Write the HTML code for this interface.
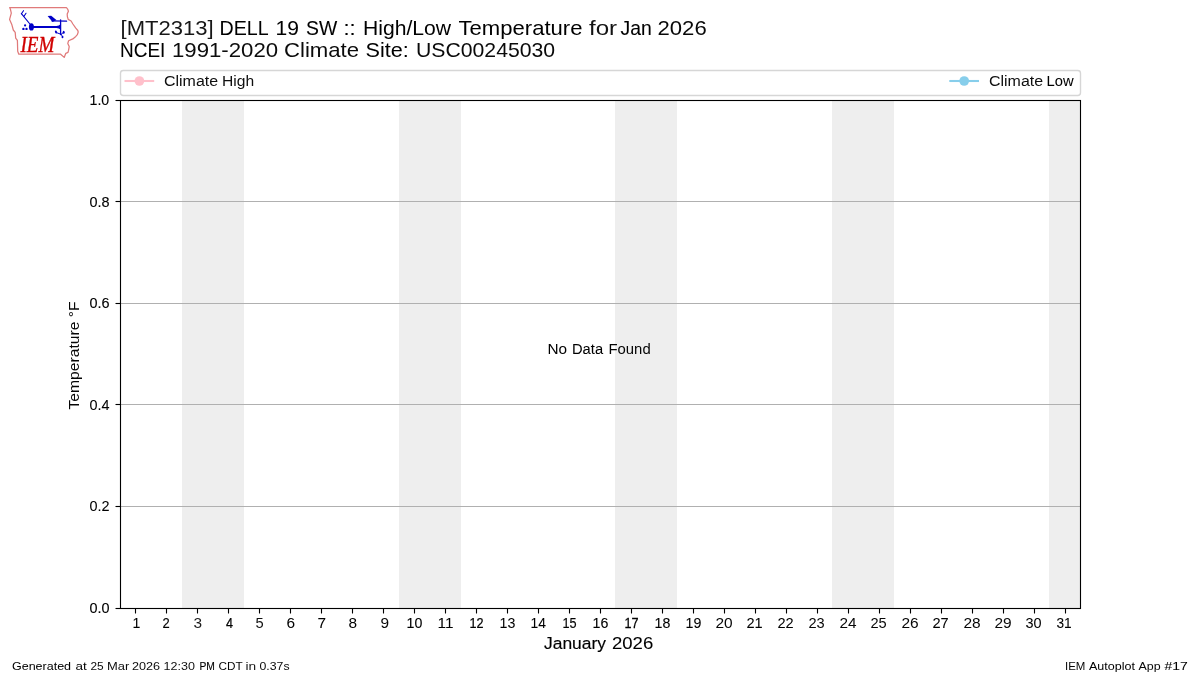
<!DOCTYPE html>
<html><head><meta charset="utf-8"><title>IEM Autoplot</title>
<style>
html,body{margin:0;padding:0;background:#fff;width:1200px;height:675px;overflow:hidden}
svg{display:block}
text{font-family:"Liberation Sans",sans-serif;fill:#000}
svg{will-change:transform}
</style></head><body>
<svg width="1200" height="675" viewBox="0 0 1200 675">
<rect width="1200" height="675" fill="#fff"/>

<g id="logo">
<path d="M9.7 7.5 L66.4 7.5 L67.8 9.4 L68.4 11.2 L67.2 14.1 L67.4 16.8 L68.2 19.4 L71.1 21 L72.9 24 L75.6 27.9 L77.8 30.5 L78.2 32 L77.4 34.6 L75.8 36.4 L72.8 38.9 L68.6 40.8 L67.8 43.4 L69.2 46.6 L68.6 50.2 L68 52.4 L65.8 53.3 L64.2 57.4 L60.6 54.2 L18.8 54.2 L17.7 51.3 L17.4 40.4 L15.7 38.2 L15.2 32.4 L13.3 30 L11.9 24.8 L9.6 19.4 L11.3 13.2 L10.4 9.2 Z" fill="none" stroke="#e07a7a" stroke-width="1.25" stroke-linejoin="round"/>
<g fill="#0000c8" stroke="#0000c8" stroke-linecap="round">
<ellipse cx="31.4" cy="26.9" rx="2.5" ry="3.7" stroke="none"/>
<path d="M33 26 L56.5 26 Q59.3 25.9 60.2 24.6 L60.2 29.3 Q59.3 28 56.5 27.9 L33 27.9 Z" stroke="none"/>
<line x1="29.9" y1="24" x2="21.4" y2="13.7" stroke-width="1.15" fill="none"/>
<line x1="21.4" y1="13.7" x2="23.5" y2="10.7" stroke-width="1.1"/>
<line x1="24" y1="16.2" x2="26" y2="13.3" stroke-width="1.1"/>
<circle cx="25.1" cy="25.4" r="1.1" stroke="none"/>
<circle cx="23.4" cy="28.9" r="1.2" stroke="none"/>
<circle cx="26.5" cy="28.9" r="1.2" stroke="none"/>
<line x1="60.6" y1="19.8" x2="60.6" y2="34.6" stroke-width="1.3"/>
<line x1="52" y1="20.9" x2="66.6" y2="21.2" stroke-width="1.2"/>
<path d="M47.6 15.9 L51.2 15.7 L56.4 19.9 L52.6 21.9 Z" stroke="none"/>
<ellipse cx="56" cy="32" rx="1.05" ry="1.6" stroke="none" transform="rotate(-20 56 32)"/>
<ellipse cx="63.7" cy="32.3" rx="1" ry="1.5" stroke="none"/>
<ellipse cx="62.5" cy="36.9" rx="0.95" ry="1.25" stroke="none"/>
<line x1="56.5" y1="32.6" x2="61" y2="34.3" stroke-width="1"/>
<line x1="61" y1="34.3" x2="63.5" y2="32.6" stroke-width="0.9"/>
<line x1="61" y1="34.3" x2="62.4" y2="36.5" stroke-width="0.9"/>
</g>
</g>
<g fill="#eeeeee" shape-rendering="crispEdges">
<rect x="181.94" y="100" width="61.94" height="508"/>
<rect x="398.71" y="100" width="61.94" height="508"/>
<rect x="615.48" y="100" width="61.94" height="508"/>
<rect x="832.26" y="100" width="61.94" height="508"/>
<rect x="1049.03" y="100" width="30.97" height="508"/>
</g>
<g stroke="#b0b0b0" stroke-width="1.11">
<line x1="120" y1="201.5" x2="1080" y2="201.5"/>
<line x1="120" y1="303.5" x2="1080" y2="303.5"/>
<line x1="120" y1="404.5" x2="1080" y2="404.5"/>
<line x1="120" y1="506.5" x2="1080" y2="506.5"/>
</g>
<g stroke="#000" stroke-width="1.11" fill="none" stroke-linecap="butt">
<rect x="120.5" y="100.5" width="960" height="508" stroke-linejoin="miter"/>
<line x1="115.5" y1="100.5" x2="120.5" y2="100.5"/>
<line x1="115.5" y1="201.5" x2="120.5" y2="201.5"/>
<line x1="115.5" y1="303.5" x2="120.5" y2="303.5"/>
<line x1="115.5" y1="404.5" x2="120.5" y2="404.5"/>
<line x1="115.5" y1="506.5" x2="120.5" y2="506.5"/>
<line x1="115.5" y1="608.5" x2="120.5" y2="608.5"/>
<line x1="135.5" y1="608.5" x2="135.5" y2="613.5"/>
<line x1="166.5" y1="608.5" x2="166.5" y2="613.5"/>
<line x1="197.5" y1="608.5" x2="197.5" y2="613.5"/>
<line x1="228.5" y1="608.5" x2="228.5" y2="613.5"/>
<line x1="259.5" y1="608.5" x2="259.5" y2="613.5"/>
<line x1="290.5" y1="608.5" x2="290.5" y2="613.5"/>
<line x1="321.5" y1="608.5" x2="321.5" y2="613.5"/>
<line x1="352.5" y1="608.5" x2="352.5" y2="613.5"/>
<line x1="383.5" y1="608.5" x2="383.5" y2="613.5"/>
<line x1="414.5" y1="608.5" x2="414.5" y2="613.5"/>
<line x1="445.5" y1="608.5" x2="445.5" y2="613.5"/>
<line x1="476.5" y1="608.5" x2="476.5" y2="613.5"/>
<line x1="507.5" y1="608.5" x2="507.5" y2="613.5"/>
<line x1="538.5" y1="608.5" x2="538.5" y2="613.5"/>
<line x1="569.5" y1="608.5" x2="569.5" y2="613.5"/>
<line x1="600.5" y1="608.5" x2="600.5" y2="613.5"/>
<line x1="631.5" y1="608.5" x2="631.5" y2="613.5"/>
<line x1="662.5" y1="608.5" x2="662.5" y2="613.5"/>
<line x1="693.5" y1="608.5" x2="693.5" y2="613.5"/>
<line x1="724.5" y1="608.5" x2="724.5" y2="613.5"/>
<line x1="755.5" y1="608.5" x2="755.5" y2="613.5"/>
<line x1="786.5" y1="608.5" x2="786.5" y2="613.5"/>
<line x1="817.5" y1="608.5" x2="817.5" y2="613.5"/>
<line x1="848.5" y1="608.5" x2="848.5" y2="613.5"/>
<line x1="879.5" y1="608.5" x2="879.5" y2="613.5"/>
<line x1="910.5" y1="608.5" x2="910.5" y2="613.5"/>
<line x1="941.5" y1="608.5" x2="941.5" y2="613.5"/>
<line x1="972.5" y1="608.5" x2="972.5" y2="613.5"/>
<line x1="1003.5" y1="608.5" x2="1003.5" y2="613.5"/>
<line x1="1034.5" y1="608.5" x2="1034.5" y2="613.5"/>
<line x1="1065.5" y1="608.5" x2="1065.5" y2="613.5"/>
</g>
<rect x="120.5" y="70.5" width="960" height="25" rx="2.8" ry="2.8" fill="#fff" fill-opacity="0.8" stroke="#d6d6d6" stroke-width="1.39"/>
<line x1="124.5" y1="81" x2="154.2" y2="81" stroke="#ffc0cb" stroke-width="2.08"/>
<circle cx="139.4" cy="81" r="4.85" fill="#ffc0cb"/>
<line x1="949.3" y1="81" x2="979" y2="81" stroke="#87ceeb" stroke-width="2.08"/>
<circle cx="964.2" cy="81" r="4.85" fill="#87ceeb"/>
<g class="txt">
<text id="t1_0" x="120.50" y="35.00" font-size="20.40" text-anchor="start" textLength="93.15" lengthAdjust="spacingAndGlyphs" style="fill:#171717">[MT2313]</text>
<text id="t1_1" x="219.50" y="35.00" font-size="20.40" text-anchor="start" textLength="49.21" lengthAdjust="spacingAndGlyphs">DELL</text>
<text id="t1_2" x="275.50" y="35.00" font-size="20.40" text-anchor="start" textLength="23.45" lengthAdjust="spacingAndGlyphs" style="stroke:#000000;stroke-width:0.026px">19</text>
<text id="t1_3" x="306.00" y="35.00" font-size="20.40" text-anchor="start" textLength="31.15" lengthAdjust="spacingAndGlyphs" style="stroke:#000000;stroke-width:0.099px">SW</text>
<text id="t1_4" x="343.50" y="35.00" font-size="20.40" text-anchor="start" textLength="12.19" lengthAdjust="spacingAndGlyphs" style="stroke:#000000;stroke-width:0.097px">::</text>
<text id="t1_5" x="363.00" y="35.00" font-size="20.40" text-anchor="start" textLength="88.09" lengthAdjust="spacingAndGlyphs" style="fill:#010101">High/Low</text>
<text id="t1_6" x="458.50" y="35.00" font-size="20.40" text-anchor="start" textLength="124.01" lengthAdjust="spacingAndGlyphs">Temperature</text>
<text id="t1_7" x="589.00" y="35.00" font-size="20.40" text-anchor="start" textLength="28.15" lengthAdjust="spacingAndGlyphs" style="fill:#131313">for</text>
<text id="t1_8" x="620.50" y="35.00" font-size="20.40" text-anchor="start" textLength="31.23" lengthAdjust="spacingAndGlyphs" style="stroke:#000000;stroke-width:0.093px">Jan</text>
<text id="t1_9" x="657.50" y="35.00" font-size="20.40" text-anchor="start" textLength="49.20" lengthAdjust="spacingAndGlyphs" style="fill:#080808">2026</text>
<text id="t2_0" x="120.00" y="57.00" font-size="20.40" text-anchor="start" textLength="45.32" lengthAdjust="spacingAndGlyphs" style="stroke:#000000;stroke-width:0.065px">NCEI</text>
<text id="t2_1" x="172.00" y="57.00" font-size="20.40" text-anchor="start" textLength="106.14" lengthAdjust="spacingAndGlyphs" style="fill:#0c0c0c">1991-2020</text>
<text id="t2_2" x="284.00" y="57.00" font-size="20.40" text-anchor="start" textLength="75.06" lengthAdjust="spacingAndGlyphs" style="fill:#0b0b0b">Climate</text>
<text id="t2_3" x="365.50" y="57.00" font-size="20.40" text-anchor="start" textLength="43.24" lengthAdjust="spacingAndGlyphs" style="stroke:#000000;stroke-width:0.005px">Site:</text>
<text id="t2_4" x="416.00" y="57.00" font-size="20.40" text-anchor="start" textLength="139.11" lengthAdjust="spacingAndGlyphs" style="fill:#0a0a0a">USC00245030</text>
<text id="legH_0" x="164.00" y="86.00" font-size="14.58" text-anchor="start" textLength="54.08" lengthAdjust="spacingAndGlyphs" style="fill:#0f0f0f">Climate</text>
<text id="legH_1" x="222.00" y="86.00" font-size="14.58" text-anchor="start" textLength="32.14" lengthAdjust="spacingAndGlyphs" style="fill:#0f0f0f">High</text>
<text id="legL_0" x="989.00" y="86.00" font-size="14.58" text-anchor="start" textLength="54.08" lengthAdjust="spacingAndGlyphs" style="fill:#0f0f0f">Climate</text>
<text id="legL_1" x="1046.50" y="86.00" font-size="14.58" text-anchor="start" textLength="27.04" lengthAdjust="spacingAndGlyphs" style="stroke:#000000;stroke-width:0.033px">Low</text>
<text id="foot_0" x="12.00" y="670.00" font-size="11.67" text-anchor="start" textLength="59.07" lengthAdjust="spacingAndGlyphs" style="stroke:#000000;stroke-width:0.011px">Generated</text>
<text id="foot_1" x="75.50" y="670.00" font-size="11.67" text-anchor="start" textLength="11.25" lengthAdjust="spacingAndGlyphs" style="fill:#040404">at</text>
<text id="foot_2" x="90.50" y="670.00" font-size="11.67" text-anchor="start" textLength="13.20" lengthAdjust="spacingAndGlyphs" style="fill:#0c0c0c">25</text>
<text id="foot_3" x="107.00" y="670.00" font-size="11.67" text-anchor="start" textLength="22.28" lengthAdjust="spacingAndGlyphs" style="fill:#0e0e0e">Mar</text>
<text id="foot_4" x="132.00" y="670.00" font-size="11.67" text-anchor="start" textLength="28.08" lengthAdjust="spacingAndGlyphs" style="fill:#0c0c0c">2026</text>
<text id="foot_5" x="163.50" y="670.00" font-size="11.67" text-anchor="start" textLength="31.37" lengthAdjust="spacingAndGlyphs" style="fill:#111111">12:30</text>
<text id="foot_6" x="199.50" y="670.00" font-size="11.67" text-anchor="start" textLength="15.44" lengthAdjust="spacingAndGlyphs" style="stroke:#000000;stroke-width:0.141px">PM</text>
<text id="foot_7" x="218.50" y="670.00" font-size="11.67" text-anchor="start" textLength="24.15" lengthAdjust="spacingAndGlyphs" style="fill:#040404">CDT</text>
<text id="foot_8" x="245.50" y="670.00" font-size="11.67" text-anchor="start" textLength="10.67" lengthAdjust="spacingAndGlyphs" style="fill:#171717">in</text>
<text id="foot_9" x="259.50" y="670.00" font-size="11.67" text-anchor="start" textLength="30.07" lengthAdjust="spacingAndGlyphs" style="fill:#090909">0.37s</text>
<text id="footR_0" x="1065.00" y="670.00" font-size="11.67" text-anchor="start" textLength="20.40" lengthAdjust="spacingAndGlyphs" style="fill:#060606">IEM</text>
<text id="footR_1" x="1089.00" y="670.00" font-size="11.67" text-anchor="start" textLength="46.00" lengthAdjust="spacingAndGlyphs">Autoplot</text>
<text id="footR_2" x="1138.50" y="670.00" font-size="11.67" text-anchor="start" textLength="22.11" lengthAdjust="spacingAndGlyphs" style="fill:#080808">App</text>
<text id="footR_3" x="1164.50" y="670.00" font-size="11.67" text-anchor="start" textLength="23.26" lengthAdjust="spacingAndGlyphs" style="stroke:#000000;stroke-width:0.060px">#17</text>
<text id="xlab_0" x="544.00" y="649.20" font-size="17.40" text-anchor="start" textLength="62.00" lengthAdjust="spacingAndGlyphs" style="stroke:#000000;stroke-width:0.154px">January</text>
<text id="xlab_1" x="612.00" y="649.20" font-size="17.40" text-anchor="start" textLength="41.21" lengthAdjust="spacingAndGlyphs" style="stroke:#000000;stroke-width:0.078px">2026</text>
<text id="nodata_0" x="547.50" y="354.40" font-size="14.58" text-anchor="start" textLength="19.58" lengthAdjust="spacingAndGlyphs" style="stroke:#000000;stroke-width:0.005px">No</text>
<text id="nodata_1" x="572.00" y="354.40" font-size="14.58" text-anchor="start" textLength="31.06" lengthAdjust="spacingAndGlyphs" style="stroke:#000000;stroke-width:0.043px">Data</text>
<text id="nodata_2" x="608.50" y="354.40" font-size="14.58" text-anchor="start" textLength="42.16" lengthAdjust="spacingAndGlyphs" style="fill:#040404">Found</text>
<text id="y00" x="89.50" y="613.00" font-size="14.58" text-anchor="start" textLength="20.06" lengthAdjust="spacingAndGlyphs" style="stroke:#000000;stroke-width:0.132px">0.0</text>
<text id="y02" x="89.50" y="511.00" font-size="14.58" text-anchor="start" textLength="20.06" lengthAdjust="spacingAndGlyphs" style="stroke:#000000;stroke-width:0.060px">0.2</text>
<text id="y04" x="89.50" y="410.00" font-size="14.58" text-anchor="start" textLength="20.06" lengthAdjust="spacingAndGlyphs" style="stroke:#000000;stroke-width:0.063px">0.4</text>
<text id="y06" x="89.50" y="308.00" font-size="14.58" text-anchor="start" textLength="20.06" lengthAdjust="spacingAndGlyphs" style="stroke:#000000;stroke-width:0.137px">0.6</text>
<text id="y08" x="89.50" y="207.00" font-size="14.58" text-anchor="start" textLength="20.06" lengthAdjust="spacingAndGlyphs" style="stroke:#000000;stroke-width:0.117px">0.8</text>
<text id="y10" x="89.50" y="105.00" font-size="14.58" text-anchor="start" textLength="19.73" lengthAdjust="spacingAndGlyphs" style="stroke:#000000;stroke-width:0.110px">1.0</text>
<text id="x1" x="132.50" y="628.00" font-size="14.58" text-anchor="start" textLength="7.83" lengthAdjust="spacingAndGlyphs" style="stroke:#000000;stroke-width:0.065px">1</text>
<text id="x2" x="162.50" y="628.00" font-size="14.58" text-anchor="start" textLength="7.20" lengthAdjust="spacingAndGlyphs" style="stroke:#000000;stroke-width:0.158px">2</text>
<text id="x3" x="193.50" y="628.00" font-size="14.58" text-anchor="start" textLength="8.57" lengthAdjust="spacingAndGlyphs" style="fill:#1c1c1c">3</text>
<text id="x4" x="226.00" y="628.00" font-size="14.58" text-anchor="start" textLength="7.00" lengthAdjust="spacingAndGlyphs" style="stroke:#000000;stroke-width:0.226px">4</text>
<text id="x5" x="255.50" y="628.00" font-size="14.58" text-anchor="start" textLength="8.17" lengthAdjust="spacingAndGlyphs" style="fill:#111111">5</text>
<text id="x6" x="286.50" y="628.00" font-size="14.58" text-anchor="start" textLength="8.57" lengthAdjust="spacingAndGlyphs" style="stroke:#000000;stroke-width:0.019px">6</text>
<text id="x7" x="317.50" y="628.00" font-size="14.58" text-anchor="start" textLength="8.57" lengthAdjust="spacingAndGlyphs" style="stroke:#000000;stroke-width:0.050px">7</text>
<text id="x8" x="348.50" y="628.00" font-size="14.58" text-anchor="start" textLength="8.57" lengthAdjust="spacingAndGlyphs">8</text>
<text id="x9" x="380.50" y="628.00" font-size="14.58" text-anchor="start" textLength="8.57" lengthAdjust="spacingAndGlyphs" style="fill:#070707">9</text>
<text id="x10" x="406.50" y="628.00" font-size="14.58" text-anchor="start" textLength="15.79" lengthAdjust="spacingAndGlyphs" style="stroke:#000000;stroke-width:0.126px">10</text>
<text id="x11" x="437.50" y="628.00" font-size="14.58" text-anchor="start" textLength="15.96" lengthAdjust="spacingAndGlyphs" style="stroke:#000000;stroke-width:0.012px">11</text>
<text id="x12" x="469.50" y="628.00" font-size="14.58" text-anchor="start" textLength="14.08" lengthAdjust="spacingAndGlyphs" style="stroke:#000000;stroke-width:0.248px">12</text>
<text id="x13" x="499.50" y="628.00" font-size="14.58" text-anchor="start" textLength="15.80" lengthAdjust="spacingAndGlyphs" style="stroke:#000000;stroke-width:0.033px">13</text>
<text id="x14" x="530.50" y="628.00" font-size="14.58" text-anchor="start" textLength="15.39" lengthAdjust="spacingAndGlyphs" style="stroke:#000000;stroke-width:0.048px">14</text>
<text id="x15" x="562.50" y="628.00" font-size="14.58" text-anchor="start" textLength="14.08" lengthAdjust="spacingAndGlyphs" style="stroke:#000000;stroke-width:0.173px">15</text>
<text id="x16" x="592.50" y="628.00" font-size="14.58" text-anchor="start" textLength="15.80" lengthAdjust="spacingAndGlyphs" style="stroke:#000000;stroke-width:0.130px">16</text>
<text id="x17" x="624.50" y="628.00" font-size="14.58" text-anchor="start" textLength="14.08" lengthAdjust="spacingAndGlyphs" style="stroke:#000000;stroke-width:0.267px">17</text>
<text id="x18" x="654.50" y="628.00" font-size="14.58" text-anchor="start" textLength="15.80" lengthAdjust="spacingAndGlyphs" style="stroke:#000000;stroke-width:0.099px">18</text>
<text id="x19" x="685.50" y="628.00" font-size="14.58" text-anchor="start" textLength="15.80" lengthAdjust="spacingAndGlyphs" style="stroke:#000000;stroke-width:0.073px">19</text>
<text id="x20" x="715.50" y="628.00" font-size="14.58" text-anchor="start" textLength="17.21" lengthAdjust="spacingAndGlyphs" style="fill:#060606">20</text>
<text id="x21" x="746.50" y="628.00" font-size="14.58" text-anchor="start" textLength="16.23" lengthAdjust="spacingAndGlyphs" style="stroke:#000000;stroke-width:0.035px">21</text>
<text id="x22" x="777.50" y="628.00" font-size="14.58" text-anchor="start" textLength="16.23" lengthAdjust="spacingAndGlyphs" style="stroke:#000000;stroke-width:0.019px">22</text>
<text id="x23" x="808.50" y="628.00" font-size="14.58" text-anchor="start" textLength="16.23" lengthAdjust="spacingAndGlyphs" style="fill:#070707">23</text>
<text id="x24" x="839.50" y="628.00" font-size="14.58" text-anchor="start" textLength="17.07" lengthAdjust="spacingAndGlyphs" style="fill:#080808">24</text>
<text id="x25" x="870.50" y="628.00" font-size="14.58" text-anchor="start" textLength="16.23" lengthAdjust="spacingAndGlyphs" style="fill:#070707">25</text>
<text id="x26" x="901.50" y="628.00" font-size="14.58" text-anchor="start" textLength="17.21" lengthAdjust="spacingAndGlyphs" style="fill:#050505">26</text>
<text id="x27" x="932.50" y="628.00" font-size="14.58" text-anchor="start" textLength="16.23" lengthAdjust="spacingAndGlyphs" style="stroke:#000000;stroke-width:0.050px">27</text>
<text id="x28" x="963.50" y="628.00" font-size="14.58" text-anchor="start" textLength="17.21" lengthAdjust="spacingAndGlyphs" style="fill:#050505">28</text>
<text id="x29" x="994.50" y="628.00" font-size="14.58" text-anchor="start" textLength="17.21" lengthAdjust="spacingAndGlyphs" style="fill:#0a0a0a">29</text>
<text id="x30" x="1025.50" y="628.00" font-size="14.58" text-anchor="start" textLength="16.07" lengthAdjust="spacingAndGlyphs" style="stroke:#000000;stroke-width:0.025px">30</text>
<text id="x31" x="1056.50" y="628.00" font-size="14.58" text-anchor="start" textLength="15.24" lengthAdjust="spacingAndGlyphs" style="stroke:#000000;stroke-width:0.041px">31</text>
<text id="ylab" x="0.00" y="0.00" font-size="14.58" text-anchor="middle" textLength="108.01" lengthAdjust="spacingAndGlyphs" transform="translate(79.00,355.50) rotate(-90)" style="fill:#050505">Temperature °F</text>
<text id="iem" x="20.50" y="51.50" font-size="22.60" text-anchor="start" textLength="34.00" lengthAdjust="spacingAndGlyphs" style="font-family:'Liberation Serif',serif;font-style:italic;fill:#d00000;stroke:#d00000;stroke-width:0.35">IEM</text>
</g>
</svg>
</body></html>
